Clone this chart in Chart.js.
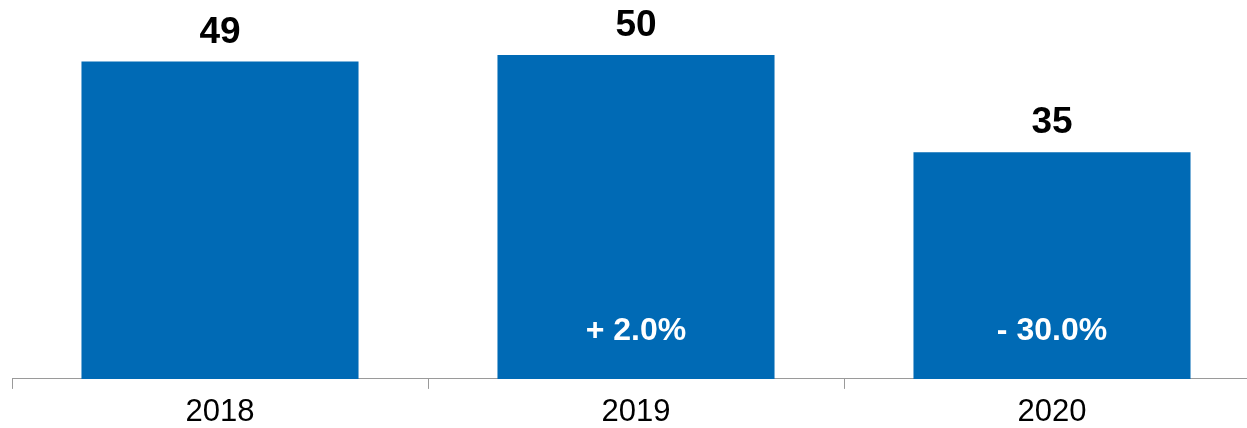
<!DOCTYPE html>
<html>
<head>
<meta charset="utf-8">
<script src="https://cdn.jsdelivr.net/npm/chart.js@4/dist/chart.umd.min.js"></script>
<style>
  html, body { margin: 0; padding: 0; background: #fff; overflow: hidden; }
  #wrap { width: 1262px; height: 428px; }
</style>
</head>
<body>
<div id="wrap"><canvas id="chart" width="1262" height="428"></canvas></div>
<script>
const years = ['2018', '2019', '2020'];
const totals = [49, 50, 35];

const barColor = '#006ab5';
const fontFamily = '"Liberation Sans", Arial, Helvetica, sans-serif';

// year-over-year change, shown inside each bar after the first
function changeLabel(i) {
  if (i === 0) return '';
  const pct = (totals[i] - totals[i - 1]) / totals[i - 1] * 100;
  return (pct >= 0 ? '+ ' : '- ') + Math.abs(pct).toFixed(1) + '%';
}

const barLabels = {
  id: 'barLabels',
  afterDatasetsDraw(chart) {
    const ctx = chart.ctx;
    const meta = chart.getDatasetMeta(0);
    ctx.save();
    ctx.textAlign = 'center';
    ctx.textBaseline = 'alphabetic';
    meta.data.forEach((bar, i) => {
      ctx.fillStyle = '#000';
      ctx.font = 'bold 37px ' + fontFamily;
      ctx.fillText(String(totals[i]), bar.x, bar.y - 19);

      const change = changeLabel(i);
      if (change) {
        ctx.fillStyle = '#fff';
        ctx.font = 'bold 32px ' + fontFamily;
        ctx.fillText(change, bar.x, bar.base - 39);
      }
    });
    ctx.restore();
  }
};

new Chart(document.getElementById('chart').getContext('2d'), {
  type: 'bar',
  data: {
    labels: years,
    datasets: [{
      data: totals,
      backgroundColor: barColor,
      borderWidth: 0,
      barPercentage: 0.666,
      categoryPercentage: 1
    }]
  },
  options: {
    responsive: false,
    animation: false,
    layout: { padding: { left: 12, right: 2, top: 0, bottom: -9 } },
    plugins: {
      legend: { display: false },
      tooltip: { enabled: false }
    },
    scales: {
      x: {
        offset: true,
        grid: {
          offset: true,
          drawOnChartArea: false,
          drawTicks: true,
          tickLength: 10,
          color: '#9a9a9a'
        },
        border: { color: '#9a9a9a', width: 1 },
        ticks: {
          color: '#000',
          padding: 7,
          font: { family: fontFamily, size: 31, lineHeight: 1.1 }
        }
      },
      y: {
        display: false,
        min: 0,
        max: 58.5
      }
    }
  },
  plugins: [barLabels]
});
</script>
</body>
</html>
